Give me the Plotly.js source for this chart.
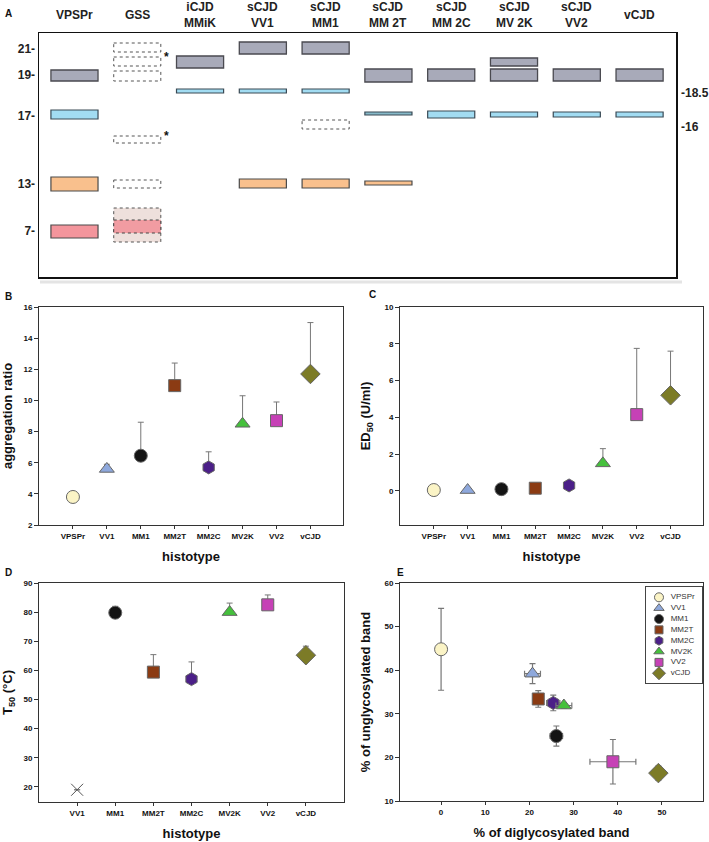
<!DOCTYPE html>
<html><head><meta charset="utf-8">
<script src="https://cdn.plot.ly/plotly-3.0.1.min.js"></script>
<style>html,body{margin:0;padding:0;background:#fff}#chart{width:709px;height:842px}</style>
</head><body><div id="chart"></div>
<script>
// ---------- Panel A data (schematic blot) ----------
const lanes = ['VPSPr','GSS','iCJD<br>MMiK','sCJD<br>VV1','sCJD<br>MM1','sCJD<br>MM 2T','sCJD<br>MM 2C','sCJD<br>MV 2K','sCJD<br>VV2','vCJD'];
const kdaLeftText = ['21-','19-','17-','13-','7-'];
const kdaLeftPos = [16,42,83,151,198];          // migration distance (a.u.)
const kdaRightText = ['-18.5','-16'];
const kdaRightPos = [60,94];
// bands: lane index, top / bottom migration distance, kind
const bandLane   = [0,0,0,0, 1,1,1,1,1,1,1, 2,2, 3,3,3, 4,4,4,4, 5,5,5, 6,6, 7,7,7, 8,8, 9,9];
const bandTop    = [37,77,144,192, 10,24,38,103,147,175,187, 23,56, 9,56,146, 9,56,87,146, 36,79,148, 36,78, 25,36,79, 36,79, 36,79];
const bandBottom = [48,86,158,205, 19,33,48,110,155,209,200, 35,60, 21,60,155, 21,60,96,155, 49,82,152, 48,85, 33,48,84, 48,84, 48,84];
const bandKind   = ['gray','blue','orange','red', 'dash','dash','dash','dash','dash','pinkdash','reddash', 'gray','blue', 'gray','blue','orange', 'gray','blue','dash','orange', 'gray','teal','orange', 'gray','blue', 'gray','gray','blue', 'gray','blue', 'gray','blue'];
const starLane = [1,1];
const starPos = [24,103];

// ---------- Panels B-E data ----------
const histo = ['VPSPr','VV1','MM1','MM2T','MM2C','MV2K','VV2','vCJD'];
const aggRatio = [3.8,5.6,6.45,10.95,5.7,8.5,8.7,11.7];
const aggErrUp = [0,0.3,2.15,1.45,1.0,1.8,1.2,3.3];
const ed50 = [0.05,0.05,0.1,0.15,0.3,1.5,4.15,5.2];
const ed50ErrUp = [0,0,0,0,0,0.8,3.6,2.4];
const histoD = ['VV1','MM1','MM2T','MM2C','MV2K','VV2','vCJD'];
const t50 = [19,79.8,59.4,57.0,80.0,82.5,65.2];
const t50ErrUp = [0,2.2,6.0,5.9,3.1,3.4,3.1];
const diglyco = [0,20.7,26.1,22.0,25.4,27.8,38.9,49.2];
const diglycoErr = [0,1.8,1.4,0.9,1.5,1.8,5.2,0];
const unglyco = [44.8,39.2,24.9,33.4,32.5,31.9,19.0,16.4];
const unglycoErr = [9.4,2.3,2.3,1.9,1.8,0.6,5.1,1.6];

// ---------- styles ----------
const symbols = ['circle','triangle-up','circle','square','hexagon','triangle-up','square','diamond'];
const colors  = ['#fbf4c6','#8ea8dc','#141414','#8b3b13','#4b1f88','#45c03c','#c641b6','#7c7b27'];
const sizes   = [13,13,13,12,13,13,12,15];
const legSizes = [9,9,9,8,9,9,8,10];
const FONT = 'Liberation Sans, Arial, sans-serif';
const W = 709, H = 842;
const px = v => v / W, py = v => 1 - v / H;

const kindStyle = {
  gray:   {fill:'#a8aab9', line:'#4a4a50', dash:'solid', w:1.3},
  blue:   {fill:'#a2dcf2', line:'#3a4a55', dash:'solid', w:1.2},
  teal:   {fill:'#86b9c8', line:'#3a4a55', dash:'solid', w:1.2},
  orange: {fill:'#f9c08d', line:'#4a4a4a', dash:'solid', w:1.2},
  red:    {fill:'#f3959c', line:'#4a4a4a', dash:'solid', w:1.2},
  dash:   {fill:'rgba(255,255,255,1)', line:'#555', dash:'dot', w:1},
  pinkdash:{fill:'#eee0dc', line:'#555', dash:'dot', w:1},
  reddash:{fill:'#f19ca2', line:'#444', dash:'dot', w:1}
};
const halfW = 0.375;

const shapes = [];
for (let i = 0; i < bandLane.length; i++) {
  const s = kindStyle[bandKind[i]];
  shapes.push({type:'rect', xref:'x5', yref:'y5',
    x0: bandLane[i]-halfW, x1: bandLane[i]+halfW, y0: bandTop[i], y1: bandBottom[i],
    fillcolor: s.fill, line:{color:s.line, width:s.w, dash:s.dash}, layer:'above'});
}
// faint separator under panel A
shapes.push({type:'line', xref:'paper', yref:'paper', x0:px(40), x1:px(682), y0:py(282), y1:py(282), line:{color:'#e4e4e4', width:3}});

const annotations = [];
lanes.forEach((t,i)=>annotations.push({xref:'x5', yref:'paper', x:i, y:py(14.5), text:'<b>'+t+'</b>', showarrow:false, yanchor:'middle', font:{family:FONT, size:12, color:'#222'}}));
starLane.forEach((l,i)=>annotations.push({xref:'x5', yref:'y5', x:l+halfW, y:starPos[i], text:'<b>*</b>', showarrow:false, xanchor:'left', yanchor:'middle', xshift:1, font:{family:FONT, size:12, color:'#111'}}));
kdaRightText.forEach((t,i)=>annotations.push({xref:'paper', yref:'y5', x:px(679), y:kdaRightPos[i], text:'<b>'+t+'</b>', showarrow:false, xanchor:'left', yanchor:'middle', font:{family:FONT, size:12, color:'#222'}}));
[['A',8,13],['B',8,296],['C',372,295],['D',8,572],['E',400,572]].forEach(p=>annotations.push({xref:'paper', yref:'paper', x:px(p[1]), y:py(p[2]), text:'<b>'+p[0]+'</b>', showarrow:false, xanchor:'center', yanchor:'middle', font:{family:FONT, size:10, color:'#111'}}));

const tickFont = {family:FONT, size:8, color:'#111', weight:'bold'};
const titleFont = {family:FONT, size:13, color:'#111', weight:'bold'};
function boxAxis(extra){
  return Object.assign({showline:true, mirror:true, linecolor:'#333', linewidth:1, showgrid:false, zeroline:false,
    ticks:'outside', ticklen:4, tickcolor:'#333', tickfont:tickFont}, extra);
}

const traces = [];
// Panel B
traces.push({type:'scatter', mode:'markers', xaxis:'x', yaxis:'y', x:histo, y:aggRatio, showlegend:false,
  error_y:{type:'data', symmetric:false, array:aggErrUp, arrayminus:histo.map(()=>0), color:'#777', thickness:1, width:3},
  marker:{symbol:symbols, color:colors, size:sizes, opacity:1, line:{color:'#666', width:1}}});
// Panel C
traces.push({type:'scatter', mode:'markers', xaxis:'x2', yaxis:'y2', x:histo, y:ed50, showlegend:false,
  error_y:{type:'data', symmetric:false, array:ed50ErrUp, arrayminus:histo.map(()=>0), color:'#777', thickness:1, width:3},
  marker:{symbol:symbols, color:colors, size:sizes, opacity:1, line:{color:'#666', width:1}}});
// Panel D
const dIdx = histoD.map(h=>histo.indexOf(h));
traces.push({type:'scatter', mode:'markers', xaxis:'x3', yaxis:'y3', x:histoD, y:t50, showlegend:false,
  error_y:{type:'data', symmetric:false, array:t50ErrUp, arrayminus:histoD.map(()=>0), color:'#777', thickness:1, width:3},
  marker:{symbol:dIdx.map((k,i)=>i===0?'x-thin-open':symbols[k]), color:dIdx.map((k,i)=>i===0?'#555':colors[k]), opacity:1,
          size:dIdx.map((k,i)=>i===0?12:sizes[k]), line:{color:dIdx.map((k,i)=>i===0?'#555':'#666'), width:1}}});
// Panel E
histo.forEach((h,i)=>traces.push({type:'scatter', mode:'markers', name:h, xaxis:'x4', yaxis:'y4', x:[diglyco[i]], y:[unglyco[i]], showlegend:false,
  error_x:{type:'data', array:[diglycoErr[i]], visible:diglycoErr[i]>0, color:'#777', thickness:1.2, width:3},
  error_y:{type:'data', array:[unglycoErr[i]], visible:unglycoErr[i]>0, color:'#777', thickness:1.2, width:3},
  marker:{symbol:symbols[i], color:colors[i], size:sizes[i], opacity:1, line:{color:'#666', width:1}}}));
// Panel E legend (drawn as a small boxed subplot): symbols + labels
traces.push({type:'scatter', mode:'markers', xaxis:'x6', yaxis:'y7', x:histo.map(()=>0), y:histo.map((h,i)=>i), showlegend:false, cliponaxis:false,
  marker:{symbol:symbols, color:colors, size:legSizes, opacity:1, line:{color:'#666', width:1}}});
traces.push({type:'scatter', mode:'text', xaxis:'x6', yaxis:'y7', x:histo.map(()=>1.3), y:histo.map((h,i)=>i), text:histo,
  textposition:'middle right', textfont:{family:FONT, size:8, color:'#333'}, showlegend:false, cliponaxis:false});
// Panel A anchor (invisible)
traces.push({type:'scatter', mode:'markers', xaxis:'x5', yaxis:'y5', x:[0], y:[0], showlegend:false, hoverinfo:'skip', marker:{opacity:0}});

const catRange8 = [-1, 7.96];
const layout = {
  width: W, height: H, margin:{l:0,r:0,t:0,b:0}, paper_bgcolor:'#fff', plot_bgcolor:'#fff',
  font:{family:FONT, color:'#222'}, shapes, annotations, showlegend:false,
  // B
  xaxis: boxAxis({domain:[px(39),px(343)], anchor:'y', type:'category', range:catRange8, ticklen:3,
    title:{text:'histotype', font:titleFont, standoff:12}}),
  yaxis: boxAxis({domain:[py(525),py(307)], anchor:'x', range:[2,16], dtick:2,
    title:{text:'aggregation ratio', font:titleFont, standoff:8}}),
  // C
  xaxis2: boxAxis({domain:[px(400),px(703)], anchor:'y2', type:'category', range:catRange8, ticklen:3,
    title:{text:'histotype', font:titleFont, standoff:12}}),
  yaxis2: boxAxis({domain:[py(525),py(307)], anchor:'x2', range:[-1.85,10], tickvals:[0,2,4,6,8,10],
    title:{text:'ED<sub>50</sub> (U/ml)', font:titleFont, standoff:10}}),
  // D
  xaxis3: boxAxis({domain:[px(39),px(344)], anchor:'y3', type:'category', range:[-1,7], ticklen:3,
    title:{text:'histotype', font:titleFont, standoff:12}}),
  yaxis3: boxAxis({domain:[py(802),py(583)], anchor:'x3', range:[14.8,90], tickvals:[20,30,40,50,60,70,80,90],
    title:{text:'T<sub>50</sub> (°C)', font:titleFont, standoff:8}}),
  // E
  xaxis4: boxAxis({domain:[px(400),px(703)], anchor:'y4', range:[-9.3,59.3], tickvals:[0,10,20,30,40,50], ticklen:3,
    title:{text:'% of diglycosylated band', font:titleFont, standoff:12}}),
  yaxis4: boxAxis({domain:[py(801),py(583)], anchor:'x4', range:[10,60], dtick:10,
    title:{text:'% of unglycosylated band', font:titleFont, standoff:10}}),
  // legend box for E
  xaxis6: {domain:[px(646),px(702)], anchor:'y7', range:[-1.45,4.8], showline:true, mirror:true, linecolor:'#444', linewidth:1,
    showgrid:false, zeroline:false, showticklabels:false, ticks:''},
  yaxis7: {domain:[py(683),py(587)], anchor:'x6', range:[7.9,-0.95], showline:true, mirror:true, linecolor:'#444', linewidth:1,
    showgrid:false, zeroline:false, showticklabels:false, ticks:''},
  // A
  xaxis5: {domain:[px(39),px(676)], anchor:'y5', range:[-0.565,9.58], showline:true, mirror:true, linecolor:'#111', linewidth:1.5,
    showgrid:false, zeroline:false, showticklabels:false, ticks:''},
  yaxis5: {domain:[py(277),py(33)], anchor:'x5', range:[244,0], showline:true, mirror:true, linecolor:'#111', linewidth:1.5,
    showgrid:false, zeroline:false, tickvals:kdaLeftPos, ticktext:kdaLeftText, ticks:'',
    tickfont:{family:FONT, size:12, color:'#222', weight:'bold'}}
};

Plotly.newPlot('chart', traces, layout, {staticPlot:true, displayModeBar:false});
</script></body></html>
